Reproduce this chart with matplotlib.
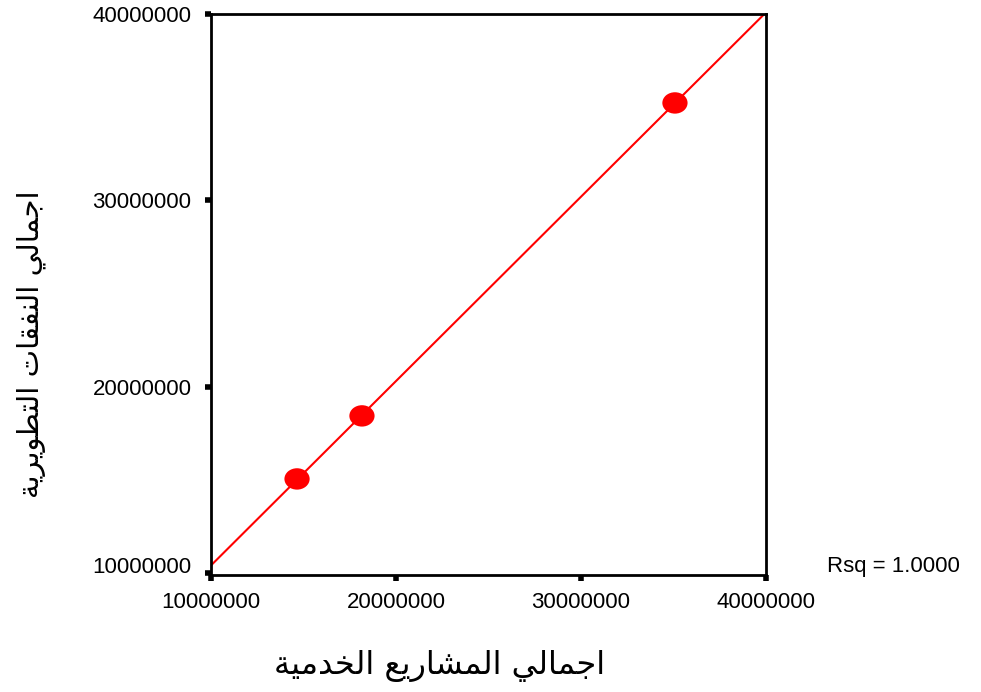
import numpy as np
import matplotlib
matplotlib.use("Agg")
import matplotlib.pyplot as plt
from matplotlib.path import Path
from matplotlib.transforms import Affine2D, ScaledTranslation

# data: total service projects vs total development spending
projects = [14650000, 18160000, 35080000]
spending = [15070000, 18450000, 35230000]
tick_values = [10000000, 20000000, 30000000, 40000000]
x_label = "اجمالي المشاريع الخدمية"
y_label = "اجمالي النفقات التطويرية"

# presentation forms: isolated, final, initial, medial
FORMS = {
    "ا": (0xFE8D, 0xFE8E), "د": (0xFEA9, 0xFEAA), "ر": (0xFEAD, 0xFEAE),
    "و": (0xFEED, 0xFEEE), "ة": (0xFE93, 0xFE94),
    "ج": (0xFE9D, 0xFE9E, 0xFE9F, 0xFEA0), "م": (0xFEE1, 0xFEE2, 0xFEE3, 0xFEE4),
    "ل": (0xFEDD, 0xFEDE, 0xFEDF, 0xFEE0), "ي": (0xFEF1, 0xFEF2, 0xFEF3, 0xFEF4),
    "ش": (0xFEB5, 0xFEB6, 0xFEB7, 0xFEB8), "ع": (0xFEC9, 0xFECA, 0xFECB, 0xFECC),
    "خ": (0xFEA5, 0xFEA6, 0xFEA7, 0xFEA8), "ن": (0xFEE5, 0xFEE6, 0xFEE7, 0xFEE8),
    "ف": (0xFED1, 0xFED2, 0xFED3, 0xFED4), "ق": (0xFED5, 0xFED6, 0xFED7, 0xFED8),
    "ت": (0xFE95, 0xFE96, 0xFE97, 0xFE98), "ط": (0xFEC1, 0xFEC2, 0xFEC3, 0xFEC4),
}


def shape(text):
    # join arabic letters and flip to visual order
    out = []
    for i, ch in enumerate(text):
        if ch not in FORMS:
            out.append(ch)
            continue
        prev = text[i - 1] if i > 0 else " "
        nxt = text[i + 1] if i + 1 < len(text) else " "
        jp = prev in FORMS and len(FORMS[prev]) == 4
        jn = len(FORMS[ch]) == 4 and nxt in FORMS
        f = FORMS[ch]
        if jp and jn:
            c = f[3]
        elif jp:
            c = f[1]
        elif jn:
            c = f[2]
        else:
            c = f[0]
        out.append(chr(c))
    return "".join(out)[::-1]


plt.rcParams['font.family'] = ['Liberation Sans', 'DejaVu Sans']

fig = plt.figure(figsize=(9.81, 6.92), dpi=100)
ax = fig.add_axes([0.2151, 0.1691, 0.5657, 0.8107])

ax.set_xlim(10000000, 40000000)
ax.set_ylim(9920000, 40000000)

# least squares line over the full x range
k, b = np.polyfit(projects, spending, 1)
xs = np.array(ax.get_xlim())
ax.plot(xs, k * xs + b, color="red", lw=1.5, zorder=2)

oval = Path.unit_circle().transformed(Affine2D().scale(1.18, 1.0))
ax.scatter(projects, spending, marker=oval, s=330, color="red",
           edgecolors="none", zorder=3, clip_on=False)

ax.set_xticks(tick_values)
ax.set_yticks(tick_values)
ax.set_xticklabels([str(v) for v in tick_values])
ax.set_yticklabels([str(v) for v in tick_values])
ax.tick_params(direction="out", length=4, width=4, color="black",
               labelsize=16, pad=8)
ax.tick_params(axis="y", pad=10)
for s in ax.spines.values():
    s.set_linewidth(2)
    s.set_color("black")

# bottom y label sits a little above its tick
lab = ax.get_yticklabels()[0]
lab.set_transform(lab.get_transform() + ScaledTranslation(0, 6 / 72, fig.dpi_scale_trans))

ax.text(1.11, 0.015, "Rsq = 1.0000", transform=ax.transAxes, fontsize=16,
        ha="left", va="center")

fig.text(0.448, 0.038, shape(x_label), family="DejaVu Sans", fontsize=23,
         ha="center", va="center")
fig.text(0.032, 0.502, shape(y_label), family="DejaVu Sans", fontsize=21,
         ha="center", va="center", rotation=90)

fig.savefig("out.png", dpi=100)
